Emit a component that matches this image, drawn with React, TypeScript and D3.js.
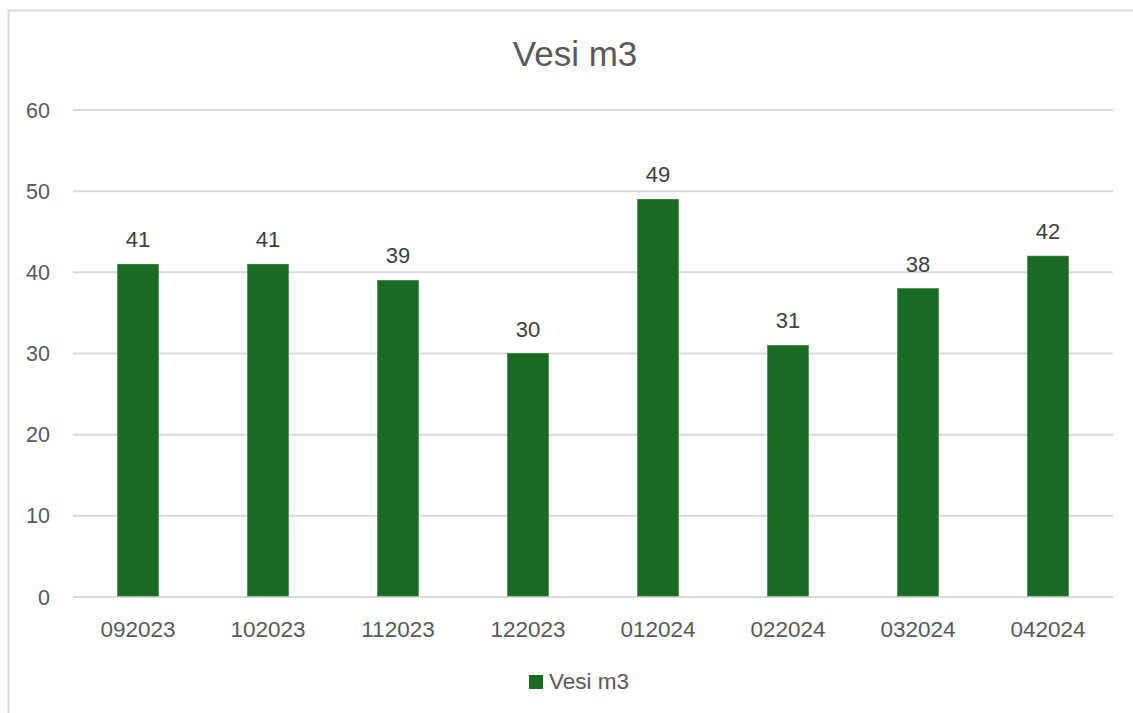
import React from "react";
import * as d3 from "d3";

const categories = ["092023", "102023", "112023", "122023", "012024", "022024", "032024", "042024"];
const values = [41, 41, 39, 30, 49, 31, 38, 42];
const yTicks = [0, 10, 20, 30, 40, 50, 60];
const seriesName = "Vesi m3";
const title = "Vesi m3";

const W = 1133;
const H = 713;
const FONT = "'Liberation Sans', Arial, sans-serif";

export default function App() {
  const left = 73, right = 1113, top = 110, bottom = 597;
  const x = d3.scaleBand<string>().domain(categories).range([left, right]).paddingInner(0.6865).paddingOuter(0.6865 / 2);
  const y = d3.scaleLinear().domain([0, 60]).range([bottom, top]);
  const barColor = "#1b6a24";
  return (
    <svg width={W} height={H} style={{ position: "absolute", left: 0, top: 0, background: "#fff" }} fontFamily={FONT}>
      <rect x={8.5} y={10.5} width={1200} height={800} fill="#fff" stroke="#d9d9d9" strokeWidth={2} />
      <text x={575} y={66} textAnchor="middle" fontSize={35} fill="#595959">{title}</text>
      {yTicks.map((t) => (
        <g key={t}>
          <line x1={left} x2={right} y1={y(t)} y2={y(t)} stroke="#d9d9d9" strokeWidth={2} />
          <text x={50} y={y(t)} dy="0.35em" textAnchor="end" fontSize={21.5} fill="#595959">{t}</text>
        </g>
      ))}
      {categories.map((c, i) => (
        <g key={c}>
          <rect x={x(c)} y={y(values[i])} width={x.bandwidth()} height={y(0) - y(values[i]) - 1} fill={barColor} stroke="#2a7a33" strokeWidth={0.6} />
          <text x={(x(c) as number) + x.bandwidth() / 2} y={y(values[i]) - 17} textAnchor="middle" fontSize={22} fill="#404040">{values[i]}</text>
          <text x={(x(c) as number) + x.bandwidth() / 2} y={637} textAnchor="middle" fontSize={22.5} fill="#595959">{c}</text>
        </g>
      ))}
      <rect x={529} y={675} width={14} height={14} fill={barColor} />
      <text x={549} y={689} fontSize={22.5} fill="#595959">{seriesName}</text>
    </svg>
  );
}
